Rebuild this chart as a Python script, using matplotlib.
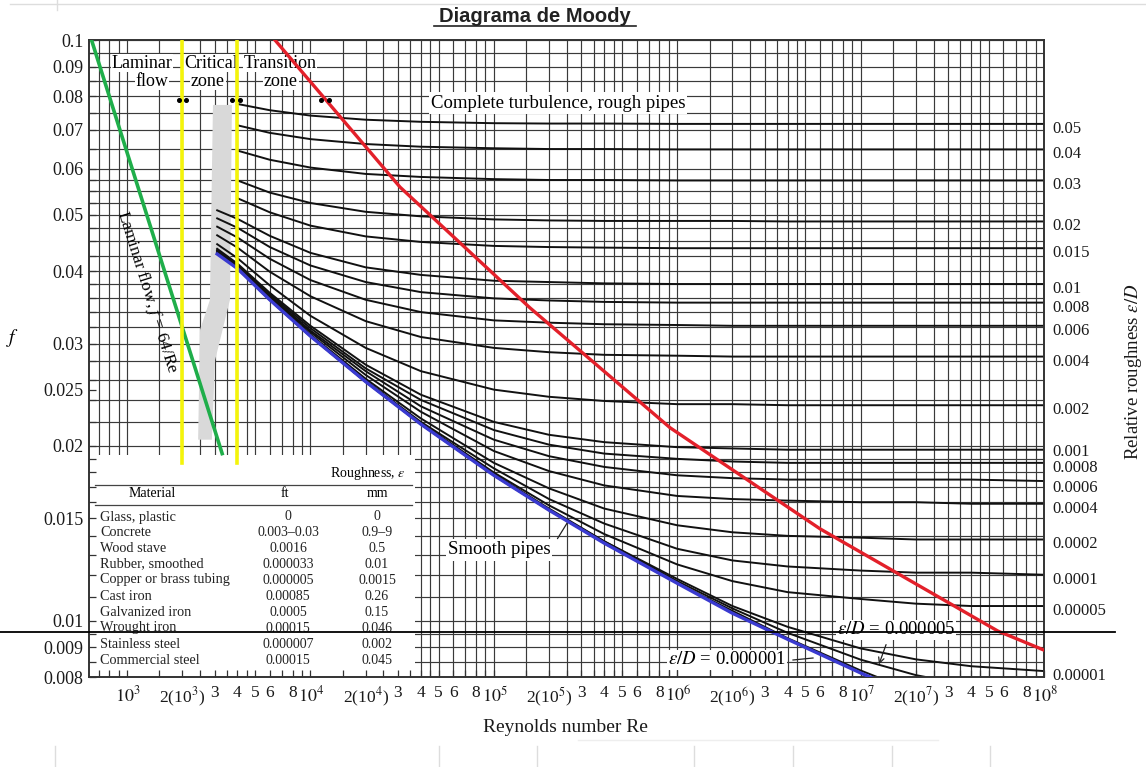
import numpy as np
import matplotlib.pyplot as plt
from matplotlib.lines import Line2D
from matplotlib.patches import Rectangle

plt.rcParams['font.family'] = ['Liberation Serif', 'DejaVu Serif']
plt.rcParams['mathtext.fontset'] = 'stix'

W, H = 1146, 767
nan = float('nan')

# --- values ---
# Reynolds numbers where each eps/D curve was read
re_grid = [3100, 4000, 6000, 1e4, 2e4, 4e4, 1e5, 2e5, 4e5, 1e6, 2e6, 4e6, 1e7, 2e7, 4e7, 1e8]

rough_labels = ['0.05', '0.04', '0.03', '0.02', '0.015', '0.01', '0.008', '0.006', '0.004',
                '0.002', '0.001', '0.0008', '0.0006', '0.0004', '0.0002', '0.0001',
                '0.00005', '0.00001']
f_rough = [
    [nan, 0.0776, 0.0757, 0.0741, 0.0729, 0.0723, 0.0719, 0.0718, 0.0718, 0.0717, 0.0717, 0.0717, 0.0717, 0.0717, 0.0717, 0.0717],
    [nan, 0.0713, 0.0692, 0.0675, 0.0662, 0.0655, 0.0651, 0.0649, 0.0649, 0.0648, 0.0648, 0.0648, 0.0648, 0.0648, 0.0648, 0.0648],
    [nan, 0.0645, 0.0622, 0.0603, 0.0588, 0.0581, 0.0576, 0.0574, 0.0574, 0.0573, 0.0573, 0.0573, 0.0573, 0.0573, 0.0573, 0.0573],
    [nan, 0.0573, 0.0546, 0.0524, 0.0506, 0.0497, 0.0491, 0.0489, 0.0488, 0.0488, 0.0488, 0.0487, 0.0487, 0.0487, 0.0487, 0.0487],
    [nan, 0.0534, 0.0505, 0.0479, 0.0459, 0.0449, 0.0442, 0.0440, 0.0439, 0.0438, 0.0438, 0.0438, 0.0438, 0.0438, 0.0438, 0.0438],
    [0.0509, 0.0492, 0.0460, 0.0430, 0.0406, 0.0394, 0.0385, 0.0383, 0.0381, 0.0380, 0.0380, 0.0380, 0.0380, 0.0380, 0.0380, 0.0380],
    [0.0493, 0.0475, 0.0440, 0.0409, 0.0383, 0.0368, 0.0359, 0.0356, 0.0354, 0.0353, 0.0353, 0.0353, 0.0353, 0.0353, 0.0353, 0.0353],
    [0.0477, 0.0457, 0.0420, 0.0386, 0.0357, 0.0340, 0.0329, 0.0326, 0.0324, 0.0323, 0.0322, 0.0322, 0.0322, 0.0322, 0.0322, 0.0322],
    [0.0461, 0.0439, 0.0399, 0.0362, 0.0328, 0.0308, 0.0295, 0.0290, 0.0287, 0.0286, 0.0285, 0.0285, 0.0285, 0.0285, 0.0285, 0.0285],
    [0.0445, 0.0421, 0.0378, 0.0335, 0.0295, 0.0269, 0.0250, 0.0243, 0.0239, 0.0236, 0.0236, 0.0235, 0.0235, 0.0235, 0.0235, 0.0235],
    [0.0437, 0.0412, 0.0367, 0.0322, 0.0276, 0.0245, 0.0220, 0.0209, 0.0203, 0.0199, 0.0198, 0.0197, 0.0197, 0.0197, 0.0197, 0.0197],
    [0.0435, 0.0410, 0.0365, 0.0319, 0.0272, 0.0240, 0.0213, 0.0201, 0.0194, 0.0190, 0.0188, 0.0187, 0.0187, 0.0187, 0.0187, 0.0187],
    [0.0434, 0.0409, 0.0363, 0.0316, 0.0269, 0.0234, 0.0205, 0.0192, 0.0184, 0.0178, 0.0176, 0.0175, 0.0175, 0.0175, 0.0175, 0.0174],
    [0.0432, 0.0407, 0.0361, 0.0314, 0.0265, 0.0229, 0.0196, 0.0181, 0.0171, 0.0164, 0.0162, 0.0161, 0.0160, 0.0160, 0.0159, 0.0159],
    [0.0431, 0.0406, 0.0359, 0.0311, 0.0261, 0.0223, 0.0187, 0.0169, 0.0156, 0.0146, 0.0142, 0.0140, 0.0139, 0.0138, 0.0138, 0.0138],
    [0.0430, 0.0405, 0.0358, 0.0310, 0.0259, 0.0220, 0.0183, 0.0162, 0.0147, 0.0133, 0.0127, 0.0124, 0.0122, 0.0121, 0.0121, 0.0120],
    [0.0430, 0.0405, 0.0358, 0.0309, 0.0258, 0.0219, 0.0180, 0.0158, 0.0141, 0.0125, 0.0117, 0.0112, 0.0109, 0.0107, 0.0106, 0.0106],
    [0.0430, 0.0404, 0.0357, 0.0309, 0.0258, 0.0218, 0.0179, 0.0156, 0.0137, 0.0118, 0.0106, 0.00976, 0.00896, 0.00858, 0.00835, 0.00819],
]
f_5e_6 = [0.0430, 0.0404, 0.0357, 0.0309, 0.0258, 0.0218, 0.0178, 0.0155, 0.0137, 0.0117, 0.0105, 0.00953, 0.00857, 0.00806, 0.00773, nan]
f_1e_6 = [0.0430, 0.0404, 0.0357, 0.0309, 0.0258, 0.0218, 0.0178, 0.0155, 0.0136, 0.0116, 0.0104, 0.00933, 0.00821, 0.00753, nan, nan]
f_smooth = [0.0428, 0.0404, 0.0357, 0.0309, 0.0258, 0.0218, 0.0178, 0.0155, 0.0136, 0.0116, 0.0103, 0.00929, 0.00813, 0.00739, nan, nan]

laminar_re = [640, 3300]
laminar_f = [0.1, 0.0194]

crit_re = [2000, 4000]
crit_f = [0.1, 0.0187]

red_re = [6400, 30800, 157000, 913000, 6.0e6, 5.6e7, 1.0e8]
red_f = [0.1, 0.0558, 0.0346, 0.0215, 0.0144, 0.0096, 0.0089]

gray_re = [2940, 3730, 3640, 3020, 2900, 2440, 2500, 2830]
gray_f = [0.0773, 0.0773, 0.0357, 0.0281, 0.0205, 0.0205, 0.0317, 0.0357]

dot_re = [1920, 2100, 3730, 4130, 11400, 12600]
dot_f = [0.0788] * 6

f_ticks = [0.1, 0.09, 0.08, 0.07, 0.06, 0.05, 0.04, 0.03, 0.025, 0.02, 0.015, 0.01, 0.009, 0.008]
re_ticks = [1e3, 2e3, 3e3, 4e3, 5e3, 6e3, 8e3, 1e4, 2e4, 3e4, 4e4, 5e4, 6e4, 8e4,
            1e5, 2e5, 3e5, 4e5, 5e5, 6e5, 8e5, 1e6, 2e6, 3e6, 4e6, 5e6, 6e6, 8e6,
            1e7, 2e7, 3e7, 4e7, 5e7, 6e7, 8e7, 1e8]

materials = ['Glass, plastic', 'Concrete', 'Wood stave', 'Rubber, smoothed',
             'Copper or brass tubing', 'Cast iron', 'Galvanized iron', 'Wrought iron',
             'Stainless steel', 'Commercial steel']
rough_ft = ['0', '0.003–0.03', '0.0016', '0.000033', '0.000005', '0.00085', '0.0005',
            '0.00015', '0.000007', '0.00015']
rough_mm = ['0', '0.9–9', '0.5', '0.01', '0.0015', '0.26', '0.15', '0.046', '0.002', '0.045']


def fx(x):
    return x / W


def fy(y):
    return 1 - y / H


fig = plt.figure(figsize=(W / 100, H / 100), dpi=100)
ax = fig.add_axes([fx(89), fy(677), (1044 - 89) / W, (677 - 40) / H])
ax.set_xscale('log')
ax.set_yscale('log')
ax.set_xlim(620, 1e8)
ax.set_ylim(0.008, 0.1)


def T(x, y, s, **kw):
    return ax.text(fx(x), fy(y), s, transform=fig.transFigure, clip_on=False, **kw)


# grid
grid_x = [m * 10 ** k for k in range(2, 8) for m in [1, 1.5, 2, 2.5, 3, 3.5, 4, 4.5, 5, 6, 7, 8, 9]]
grid_x = [v for v in grid_x if 620 < v < 1e8]
grid_y = (list(np.arange(0.008, 0.0100, 0.0005)) + list(np.arange(0.010, 0.0200, 0.001))
          + list(np.arange(0.020, 0.0400, 0.002)) + list(np.arange(0.040, 0.0600, 0.0025))
          + list(np.arange(0.060, 0.1001, 0.005)))
for v in grid_x:
    ax.axvline(v, color='#3a3a3a', lw=0.85, zorder=0.5)
for v in grid_y:
    ax.axhline(v, color='#3a3a3a', lw=0.85, zorder=0.5)

# ticks
ax.set_axisbelow('line')
ax.set_xticks(re_ticks)
ax.set_xticks(grid_x, minor=True)
ax.set_yticks(f_ticks)
ax.set_yticks([v for v in grid_y if 0.008 < v < 0.1], minor=True)
xlabels = []
for v in re_ticks:
    e = int(round(np.log10(v)))
    m = int(round(v / 10 ** np.floor(np.log10(v) + 1e-9)))
    if m == 1:
        xlabels.append(r'$\;10^{%d}$' % e)
    elif m == 2:
        xlabels.append(r'2(10$^{%d}$)' % e)
    else:
        xlabels.append(str(m))
ax.set_xticklabels(xlabels)
ax.xaxis.set_minor_formatter(plt.NullFormatter())
ax.set_yticklabels([('%g' % v) for v in f_ticks])
ax.yaxis.set_minor_formatter(plt.NullFormatter())
ax.tick_params(which='both', direction='in', length=5, width=0.9, color='#333333')
ax.tick_params(axis='x', labelsize=12.5, pad=6, labelcolor='#1a1a1a')
ax.tick_params(axis='y', labelsize=13, pad=4, labelcolor='#1a1a1a')
for lab, v in zip(ax.get_xticklabels(), re_ticks):
    if abs(np.log10(v) - round(np.log10(v))) < 1e-6:
        lab.set_fontsize(13)
for s in ax.spines.values():
    s.set_linewidth(1.4)
    s.set_color('#333333')

# critical zone shading and markers
ax.fill(gray_re, gray_f, color='#d9d9d9', zorder=0.8, lw=0)
ax.plot(dot_re, dot_f, 'o', color='black', ms=2.6, zorder=3)

# table background
ax.add_patch(Rectangle((fx(90), fy(677)), (415 - 90) / W, (677 - 455) / H,
                       transform=fig.transFigure, facecolor='white', edgecolor='none',
                       zorder=1.2))

# friction factor curves, roughness labels at the right edge
nudge = {'0.001': 3, '0.0006': -2}
for lab, fs in zip(rough_labels, f_rough):
    ax.plot(re_grid, fs, color='#111111', lw=1.4, zorder=2)
    ax.annotate(lab, xy=(1e8, fs[-1]), xytext=(8, -5 + nudge.get(lab, 0)),
                textcoords='offset pixels', ha='left', va='center', fontsize=12,
                color='#1a1a1a', annotation_clip=False)
ax.plot(re_grid, f_5e_6, color='#111111', lw=1.4, zorder=2)
ax.plot(re_grid, f_1e_6, color='#111111', lw=1.4, zorder=2)
ax.plot(re_grid, f_smooth, color='#3a3ad0', lw=2.4, zorder=2.6)

ax.plot(laminar_re, laminar_f, color='#1fae4a', lw=2.6, zorder=2.7)
for r in crit_re:
    ax.plot([r, r], crit_f, color='#f4f40a', lw=2.6, zorder=2.7)
ax.plot(red_re, red_f, color='#e3202a', lw=2.4, zorder=2.8)

# labels on the chart
wb = dict(facecolor='white', edgecolor='none', pad=0.5)
T(142, 63, 'Laminar', fontsize=13, ha='center', va='center', bbox=wb, zorder=2.3)
T(152, 81, 'flow', fontsize=13, ha='center', va='center', bbox=wb, zorder=2.3)
T(211, 63, 'Critical', fontsize=13, ha='center', va='center', bbox=wb, zorder=2.3)
T(208, 81, 'zone', fontsize=13, ha='center', va='center', bbox=wb, zorder=2.3)
T(280, 63, 'Transition', fontsize=13, ha='center', va='center', bbox=wb, zorder=2.3)
T(281, 81, 'zone', fontsize=13, ha='center', va='center', bbox=wb, zorder=2.3)
T(558, 103, 'Complete turbulence, rough pipes', fontsize=13.5, ha='center', va='center',
  bbox=dict(facecolor='white', edgecolor='none', pad=1.5), zorder=2.3)
T(147, 292, r'Laminar flow, $f$ = 64/Re', fontsize=12.5, ha='center', va='center',
  rotation=-72.5, rotation_mode='anchor', zorder=2.3)
T(499, 550, 'Smooth pipes', fontsize=13.5, ha='center', va='center',
  bbox=dict(facecolor='white', edgecolor='none', pad=1.5), zorder=2.3)
ax.annotate('', xy=(2.6e5, 0.0150), xytext=(fx(556), fy(541)), textcoords='figure fraction',
            arrowprops=dict(arrowstyle='-', color='#222222', lw=0.9), zorder=2.3)
T(727, 660, r'$\varepsilon/D$ = 0.000001', fontsize=13.5, ha='center', va='center',
  bbox=dict(facecolor='white', edgecolor='none', pad=0.8), zorder=2.3)
ax.add_line(Line2D([fx(793), fx(813)], [fy(660), fy(658)], transform=fig.transFigure,
                   color='#222222', lw=0.9, zorder=2.3))
T(896, 630, r'$\varepsilon/D$ = 0.000005', fontsize=13.5, ha='center', va='center',
  bbox=dict(facecolor='white', edgecolor='none', pad=0.8), zorder=2.3)
ax.annotate('', xy=(fx(878), fy(667)), xytext=(fx(887), fy(642)), xycoords='figure fraction',
            textcoords='figure fraction',
            arrowprops=dict(arrowstyle='->', color='#222222', lw=0.9), zorder=2.3)

# roughness table
T(406, 473, r'Roughness, $\varepsilon$', fontsize=10, ha='right', va='center', zorder=2.4)
ax.add_line(Line2D([fx(95), fx(412)], [fy(485), fy(485)], transform=fig.transFigure,
                   color='#444444', lw=0.9, zorder=2.4))
ax.add_line(Line2D([fx(95), fx(412)], [fy(505), fy(505)], transform=fig.transFigure,
                   color='#444444', lw=0.9, zorder=2.4))
T(152, 494, 'Material', fontsize=10, ha='center', va='center', zorder=2.4)
T(285, 494, 'ft', fontsize=10, ha='center', va='center', zorder=2.4)
T(377, 494, 'mm', fontsize=10, ha='center', va='center', zorder=2.4)
row_y = [517, 532, 548, 564, 580, 596, 612, 628, 645, 661]
for yy, m, a, b in zip(row_y, materials, rough_ft, rough_mm):
    T(100, yy, m, fontsize=10.3, ha='left', va='center', color='#222222', zorder=2.4)
    T(288, yy, a, fontsize=10, ha='center', va='center', color='#222222', zorder=2.4)
    T(377, yy, b, fontsize=10, ha='center', va='center', color='#222222', zorder=2.4)

# axis titles
fig.text(fx(565), fy(728), 'Reynolds number Re', fontsize=14, ha='center', va='center',
         color='#1a1a1a')
fig.text(fx(13), fy(338), r'$f$', fontsize=14, ha='center', va='center')
fig.text(fx(1133), fy(372), r'Relative roughness $\varepsilon/D$', fontsize=13.5,
         rotation=90, ha='center', va='center', color='#1a1a1a')

fig.text(fx(535), fy(16), 'Diagrama de Moody', fontsize=14.5, fontweight='bold',
         family='Liberation Sans', ha='center', va='center', color='#222222')
fig.add_artist(Line2D([fx(434), fx(636)], [fy(26), fy(26)], color='#222222', lw=1.2))

# scan artefacts
fig.add_artist(Line2D([0, 1115 / W], [fy(632), fy(632)], color='black', lw=1.3))
fig.add_artist(Line2D([fx(10), 1], [fy(4), fy(4)], color='#dddddd', lw=1))
fig.add_artist(Line2D([fx(57), fx(57)], [fy(0), fy(10)], color='#dddddd', lw=1))
for xx in [55, 439, 537, 694, 793, 892, 990]:
    fig.add_artist(Line2D([fx(xx), fx(xx)], [fy(746), 0], color='#dddddd', lw=1))
fig.add_artist(Line2D([fx(578), fx(938)], [fy(740), fy(740)], color='#eeeeee', lw=1))

fig.savefig('out.png', dpi=100)
